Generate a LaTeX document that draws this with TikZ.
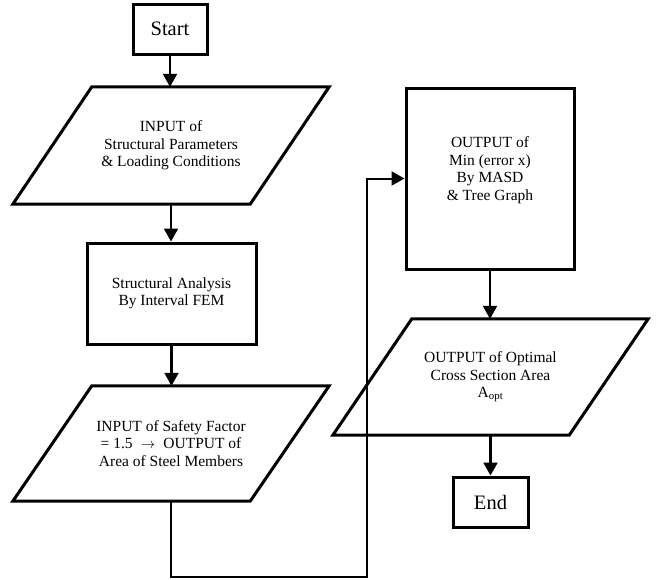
\documentclass[tikz,border=0pt]{standalone}
\usepackage{fontspec}
\setmainfont{Liberation Serif}
\usetikzlibrary{arrows.meta,calc}
\begin{document}
\begin{tikzpicture}[x=1pt,y=-1pt,
  box/.style={draw, line width=3pt, rectangle, inner sep=0pt, align=center, font=\fontsize{15.5}{17.5}\selectfont},
  term/.style={box, font=\fontsize{20.5}{24}\selectfont},
  io/.style={rectangle, inner sep=0pt, align=center, font=\fontsize{15.5}{17.5}\selectfont},
  ioline/.style={line width=3pt, line join=miter},
  flow/.style={line width=2.2pt, -{Triangle[length=13pt,width=14pt]}},
  loopflow/.style={line width=2pt, line join=miter, -{Triangle[length=13pt,width=14pt]}}
]
\useasboundingbox (0,0) rectangle (656,579);

\node[term, minimum width=74pt, minimum height=50pt] (start) at (170,29) {Start};
\node[io, minimum width=237pt, minimum height=117pt] (in1) at (171,145.5) {INPUT of\\Structural Parameters\\\& Loading Conditions};
\node[box, minimum width=169pt, minimum height=101pt] (fem) at (171.5,293.5) {Structural Analysis\\By Interval FEM};
\node[io, minimum width=237pt, minimum height=115pt] (sf) at (171,443.5) {INPUT of Safety Factor\\= 1.5 \;$\rightarrow$\; OUTPUT of\\Area of Steel Members};
\node[box, minimum width=168pt, minimum height=181pt] (masd) at (490,178.5) {};
\node[io] (masdtext) at (490,170) {OUTPUT of\\Min (error x)\\By MASD\\\& Tree Graph};
\node[io, minimum width=236pt, minimum height=116pt] (opt) at (490.5,377) {OUTPUT of Optimal\\Cross Section Area\\A\textsubscript{opt}};
\node[term, minimum width=75pt, minimum height=50pt] (end) at (490.5,502) {End};

% parallelogram outlines
\foreach \n in {in1,sf,opt}{
  \draw[ioline] ([xshift=39.5pt]\n.north west) -- ([xshift=39.5pt]\n.north east)
    -- ([xshift=-39.5pt]\n.south east) -- ([xshift=-39.5pt]\n.south west) -- cycle;
}

% connectors
\draw[flow] (start.south) -- (start.south |- in1.north);
\draw[flow] (in1.south) -- (in1.south |- fem.north);
\draw[flow] (fem.south) -- (fem.south |- sf.north);
\draw[flow] (masd.south) -- (masd.south |- opt.north);
\draw[flow] (opt.south) -- (opt.south |- end.north);

\coordinate (bl) at (172,577);
\coordinate (br) at (367,577);
\draw[loopflow] (sf.south) -- (sf.south |- bl) -- (br) -- (br |- masd.west) -- (masd.west);
\end{tikzpicture}
\end{document}
